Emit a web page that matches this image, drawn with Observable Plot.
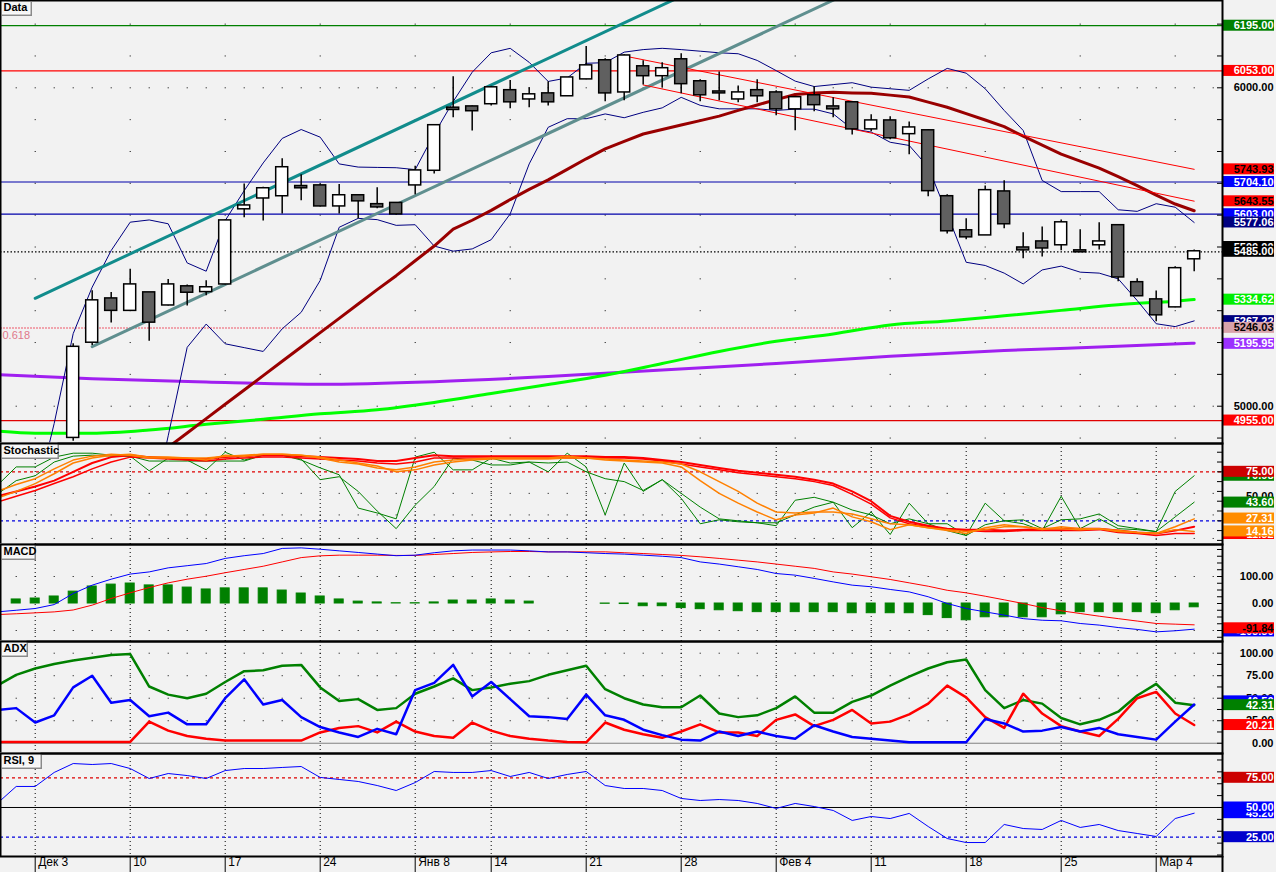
<!DOCTYPE html>
<html><head><meta charset="utf-8">
<script src="https://cdn.jsdelivr.net/npm/d3@7"></script>
<script src="https://cdn.jsdelivr.net/npm/@observablehq/plot@0.6"></script>
<style>
body{margin:0;background:#f2f2f2;}
#chart{position:relative;width:1276px;height:872px;background:#f2f2f2;overflow:hidden;}
#chart svg{position:absolute;left:0;display:block;}
</style></head><body><div id="chart"></div>
<script>
// ---------- x axis (trading-day index) ----------
const weekTicks = [0,5,10,15,20,24,29,34,39,44,49,54,59];
const weekLabels = ["Дек 3","10","17","24","Янв 8","14","21","28","Фев 4","11","18","25","Мар 4"];

// ---------- candles (index 2..61) ----------
const candleStart = 2;
const candleOpen  = [4902,5201,5337,5301,5356,5318,5375,5360,5384,5620,5654,5661,5690,5692,5629,5661,5633,5637,5695,5741,5936,5940,5950,5991,5965,5981,5975,6028,6085,5987,6066,6038,6088,6019,5987,5965,5991,5984,5934,5975,5940,5953,5871,5896,5856,5865,5658,5551,5538,5673,5497,5516,5507,5488,5507,5567,5388,5334,5312,5463];
const candleHigh  = [5196,5363,5357,5430,5357,5398,5381,5394,5585,5698,5688,5777,5727,5698,5696,5664,5686,5640,5754,5884,6035,5943,6005,6023,6000,6019,6031,6130,6091,6104,6085,6079,6107,6025,6050,6006,6025,5991,5969,6003,5969,5953,5915,5909,5893,5868,5664,5589,5692,5708,5545,5563,5585,5554,5576,5567,5400,5362,5438,5491];
const candleLow   = [4890,5191,5261,5298,5204,5315,5315,5347,5381,5592,5582,5604,5645,5626,5604,5589,5620,5600,5664,5729,5906,5864,5943,5934,5937,5943,5975,6025,5956,5959,6009,6000,5981,5956,5959,5953,5953,5912,5865,5925,5906,5852,5862,5837,5790,5658,5541,5523,5538,5557,5463,5469,5488,5485,5491,5391,5347,5265,5309,5422];
const candleClose = [5185,5331,5301,5381,5264,5381,5358,5372,5582,5629,5683,5749,5686,5629,5661,5645,5626,5604,5739,5881,5932,5928,6000,5956,5978,5956,6031,6069,5984,6100,6038,6060,6013,5978,5984,5984,5975,5934,5969,5947,5934,5871,5896,5843,5874,5677,5551,5532,5677,5573,5491,5497,5576,5485,5516,5406,5347,5287,5432,5485];

// ---------- overlays ----------
const maRedStart = 7;
const maRed = [4871,4916,4961,5006,5051,5096,5141,5186,5231,5276,5321,5366,5410,5457,5503,5556,5584,5615,5649,5681,5711,5744,5777,5808,5832,5855,5869,5883,5897,5911,5929,5946,5963,5979,5984,5986,5984,5983,5977,5971,5955,5939,5919,5899,5878,5848,5820,5792,5770,5748,5721,5693,5663,5635,5614];
const bbUpperStart = 0;
const bbUpper = [4700,4946,5228,5374,5489,5578,5585,5573,5450,5424,5583,5677,5764,5841,5869,5845,5761,5751,5750,5749,5743,5855,5957,6049,6110,6124,6080,6020,6031,6077,6079,6112,6120,6124,6120,6115,6110,6107,6086,6054,6021,6004,6010,6016,6002,5997,5992,6028,6061,6046,5997,5929,5866,5709,5674,5674,5674,5617,5612,5636,5625,5577];
const bbLowerStart = 6;
const bbLower = [4628,4907,5185,5258,5196,5184,5172,5243,5295,5395,5562,5590,5586,5568,5570,5503,5487,5494,5523,5604,5761,5876,5903,5903,5918,5906,5923,5937,5970,5945,5934,5934,5934,5929,5933,5933,5918,5871,5861,5829,5819,5751,5604,5452,5442,5418,5384,5428,5440,5421,5418,5400,5332,5259,5250,5268];
const maGreenIdx = [-2,0,3,6,9,12,15,18,21,24,27,30,33,36,39,42,45,48,51,54,57,60,61];
const maGreen    = [4922,4915,4915,4925,4943,4959,4976,4989,5012,5040,5068,5097,5134,5172,5204,5227,5255,5268,5284,5301,5319,5330,5335];
const maPurpleIdx = [-2,3,9,15,21,27,33,39,45,51,57,61];
const maPurple    = [5099,5086,5076,5069,5077,5093,5114,5134,5157,5175,5188,5198];
const tealUpperIdx = [0,40],  tealUpper = [5339,6455];
const tealLowerIdx = [3,45],  tealLower = [5187,6359];
const chanUpperIdx = [31,61], chanUpper = [6100,5744];
const chanLowerIdx = [32,61], chanLower = [6009,5644];
const levelValues = [6195,6053,5704.10,5603,5485,5246.03,4955];
const fibValue = 5246.03;
const mainTicks = [4900,5000,5100,5200,5300,5400,5500,5600,5700,5800,5900,6000,6100,6200];
const mainTickLabels = [5000,6000];
const mainLabelValues = [6195,6053,5743.93,5704.10,5643.55,5603,5577.06,5500,5485,5334.62,5267.22,5246.03,5195.95,4955];

// ---------- oscillators (index -2..61) ----------
const oscStart = -2;
const stochGreenA = [61,80,80,90,94,94,92,91,76,89,87,77,95,87,92,92,87,79,72,38,33,27,90,95,77,77,89,84,85,75,94,80,31,84,55,67,48,22,26,24,23,20,46,49,44,18,34,11,43,22,22,10,43,25,22,15,50,17,27,17,16,14,55,71];
const stochGreenB = [52,66,71,85,91,92,91,91,86,86,86,86,86,86,92,92,88,67,70,55,35,17,41,60,89,87,82,82,85,84,85,75,68,65,56,67,53,39,27,25,23,23,31,39,44,36,31,22,27,22,15,10,21,25,26,17,26,27,32,20,17,14,29,44];
const stochRed1 = [50,55,60,66,75,84,90,92,90,89,88,88,90,91,92,92,91,90,89,88,86,86,89,92,91,91,91,91,91,91,91,91,90,90,89,87,85,82,79,76,74,72,70,67,63,55,45,30,24,20,17,16,16,15,16,17,17,17,17,15,13,12,15,19];
const stochRed2 = [44,50,56,63,70,78,85,90,89,88,87,86,88,89,90,90,89,88,87,86,84,83,85,89,89,89,89,89,89,89,89,89,89,89,88,86,83,80,77,74,72,70,68,65,61,52,42,28,22,19,16,15,14,14,15,15,15,15,16,13,12,10,12,12];
const stochOrange1 = [55,62,68,78,87,91,93,92,89,89,89,87,92,91,93,93,92,89,85,83,79,77,80,85,87,88,89,89,89,89,91,89,87,86,85,84,80,66,53,43,34,26,31,33,38,29,24,16,21,18,15,12,18,21,19,16,19,17,17,15,13,12,19,27];
const stochOrange2 = [48,55,63,73,84,89,92,93,90,90,89,89,91,92,93,93,92,90,87,84,81,75,77,82,85,87,88,88,88,88,89,89,88,87,86,85,83,75,65,55,43,34,33,34,34,32,27,22,21,18,16,14,16,19,19,17,17,16,17,14,13,12,16,14];
const stochLevels = [75,25];
const stochGrid = [7,31,53];
const stochTicks = [5,15,25,35,45,55,65,75,85,95];
const stochLabelValues = [70.98,75,43.60,11.52,27.31,14.16];
const stochPlain = [50];

const macdLine = [-31,-25,-18.5,-4,37,68,90,109,117,132,140,148,167,177,185,204,206,201,195,189,183,177,179,188,195,198,198,198,195,191,191,188,185,183,179,175,170,154,146,136,126,111,105,93,80,68,62,52,43,25,0,-18.5,-31,-43,-56,-62,-64,-74,-80,-89,-96,-105,-101,-95];
const macdSignal = [-41,-38,-34.6,-31,-24,-6,18.5,39.5,59,76.5,90,101,114,126,138,154,170,176.5,179,179,179,178,178,181.5,185,189,191,192.6,192.6,191.3,191.3,191.3,191.3,188,185,181.5,178,173,167,160.5,154,146,138,130,117,109,99,89,76.5,64,49,39.5,27,13.6,0,-15,-27,-37,-47,-56,-65,-74,-76.5,-79];
const histIdx = [-1,0,1,2,3,4,5,6,7,8,9,10,11,12,13,14,15,16,17,18,19,20,21,22,23,24,25,26,30,31,32,33,34,35,36,37,38,39,40,41,42,43,44,45,46,47,48,49,50,51,52,53,54,55,56,57,58,59,60,61];
const histValues = [15,18.5,26,44,63,70,74,67,67,59,52,56,56,56,48,37,26,15,7,4,1,1,4,11,11,15,11,7,-1,-2,-10,-10,-17,-21,-25,-28.5,-32,-32,-32,-32,-32,-36,-36,-36,-36,-43,-54,-62,-51,-51,-51,-51,-40,-32,-32,-32,-32,-36,-25,-14];
const macdGrid = [100,-100];
const macdTicks = [-125,-100,-75,-50,-25,0,25,50,75,100,125,150,175,200];
const macdPlain = [100,0];
const macdLabelValues = [-103.5,-91.84];

const adxLine = [64,76,83,88,92,95,98,99,63,54,50,55,68,80,81,86,87,62,47,49,37,39,55,63,72,59,62,66,69,76,81,86,60,50,43,40,40,53,33,29,31,39,52,34,34,46,53,64,74,83,90,93,59,39,48,44,28,21,26,35,53,66,45,42.31];
const diPlus  = [37,39,23,31,62,75,45,48,30,34,21,21,50,71,43,48,29,18,12,7,16,10,59,67,87,52,68,49,30,29,27,54,31,26,15,9,4,3,13,8,13,8,5,20,13,7,5,3,1,1,1,1,27,22,13,14,18,13,17,10,7,4,24,43];
const diMinus = [1.5,1.5,1.5,1.5,1.5,1.5,1.5,1.5,24,14,8,5,3,3,3,3,3,12,17,19,12,24,13,8,6,23,14,8,5,3,1.5,1,23,15,10,6,13,21,12,12,8,26,32,19,26,37,22,24,32,44,64,51,29,17,55,33,19,13,8,27,50,57,33,20.21];
const adxGrid = [25,50,75,100];
const adxTicks = [0,12.5,25,37.5,50,62.5,75,87.5,100];
const adxPlain = [100,75,50,25,0];
const adxLabelValues = [46.5,42.31,20.21];

const rsiLine = [53.4,67.7,67.7,79.5,87,86.2,87,82.8,74.4,78.6,76.9,74.4,81.1,82.8,82.8,83.7,84.5,75.3,73.6,71.9,68.5,64.3,71,80.3,79.5,79.5,81.1,76.1,79.5,74.4,77.8,80.3,68.5,66,66,64.3,57.6,55.9,56.7,55.9,53.4,49.2,53.4,50.8,47.5,39.1,42.4,40.7,45,34,23.9,20.5,20.5,35.7,32.3,31.5,39.1,33.2,35.7,30.6,28.1,25.6,40.7,45.2];
const rsiTicks = [10,20,30,40,50,60,70,80,90];
const rsiLabelValues = [75,45.20,50,25];

// ---------- styles ----------
const FONT = "Liberation Sans, Arial, sans-serif";
const xDomain = [-1.826, 62.49];
const frameW = 1222;
const mainLabelStyle = [["#008000","#fff"],["#ff0000","#fff"],["#ff0000","#000"],["#0000ff","#fff"],["#ff0000","#000"],["#0000ff","#fff"],["#000080","#fff"],["#000000","#fff"],["#000000","#fff"],["#00ee00","#fff"],["#000080","#fff"],["#d9a3ab","#000"],["#9b30ff","#fff"],["#ff0000","#fff"]];
const levelStyle = [["#008000",""],["#ff0000",""],["#0000aa",""],["#0000aa",""],["#000000","1.5,2"],["#f08a96","2,1"],["#e00000",""]];
const stochLabelStyle = [["#008000","#fff"],["#cc0000","#fff"],["#008000","#fff"],["#ff0000","#fff"],["#ff8c00","#fff"],["#ff8c00","#fff"]];
const macdLabelStyle = [["#0000ff","#fff"],["#ff0000","#000"]];
const adxLabelStyle = [["#0000ff","#fff"],["#008000","#fff"],["#ff0000","#fff"]];
const rsiLabelStyle = [["#cc0000","#fff"],["#0000ff","#fff"],["#0000ff","#fff"],["#0000cc","#fff"]];

const seq = (start, vals) => vals.map((v, k) => ({i: start + k, v}));
const pairs = (idx, vals) => idx.map((i, k) => ({i, v: vals[k]}));

function labelMarks(values, styles, plain, ticks) {
  const boxes = values.map((v, k) => ({v, bg: styles[k][0], fg: styles[k][1]}));
  const m = [];
  if (ticks) m.push(Plot.tickY(ticks, {y: d => d, insetLeft: frameW - 5, stroke: "#000"}));
  if (plain) m.push(Plot.text(plain, {y: d => d, text: d => d.toFixed(2), frameAnchor: "right", dx: 51, textAnchor: "end", fontWeight: "bold", fontSize: 11, fontFamily: FONT, fill: "#000"}));
  for (const b of boxes) {
    m.push(Plot.rect([b], {y1: "v", y2: "v", insetTop: -5.5, insetBottom: -5.5, insetLeft: frameW + 1, insetRight: -52, fill: "bg"}));
    m.push(Plot.text([b], {y: "v", text: d => d.v.toFixed(2), frameAnchor: "right", dx: 51, textAnchor: "end", fontWeight: "bold", fontSize: 11, fontFamily: FONT, fill: "fg"}));
  }
  return m;
}

function titleBox(label, boxW, frameH) {
  return [
    Plot.rect([0], {insetLeft: 2, insetTop: 2, insetRight: frameW - boxW - 2, insetBottom: frameH - 16, fill: "#8a8a8a"}),
    Plot.rect([0], {insetLeft: 0, insetTop: 0, insetRight: frameW - boxW, insetBottom: frameH - 14, fill: "#f6f6f6", stroke: "#ffffff"}),
    Plot.text([label], {text: d => d, frameAnchor: "top-left", dx: 3, dy: 7, lineAnchor: "middle", fontWeight: "bold", fontSize: 11, fontFamily: FONT, fill: "#000"})
  ];
}

function panel(top, height, yDomain, marks, mb = 0) {
  const svg = Plot.plot({
    width: 1276, height, marginLeft: 0, marginRight: 54, marginTop: 0, marginBottom: mb,
    x: {type: "linear", domain: xDomain, axis: null},
    y: {type: "linear", domain: yDomain, axis: null},
    color: {type: "identity"},
    style: {background: "transparent", fontFamily: FONT, overflow: "visible"},
    marks
  });
  svg.style.top = top + "px";
  document.getElementById("chart").appendChild(svg);
}

// ---------- MAIN PANEL ----------
const candles = candleOpen.map((o, k) => ({i: candleStart + k, o, h: candleHigh[k], l: candleLow[k], c: candleClose[k]}));
const levels = levelValues.map((v, k) => ({v, s: levelStyle[k][0], d: levelStyle[k][1]}));
const sparseRows = mainTicks.filter(t => !mainTickLabels.includes(t));
panel(0, 443, [4882.9, 6274.2], [
  Plot.ruleY(sparseRows, {y: d => d, stroke: "#000", strokeDasharray: "1,94", strokeDashoffset: 60.3}),
  Plot.ruleY(mainTickLabels, {y: d => d, stroke: "#000", strokeDasharray: "1,18", strokeDashoffset: 3.3}),
  ...levels.map(l => Plot.ruleY([l], {y: "v", stroke: l.s, strokeWidth: l.d === "2,1" ? 1.5 : 1.2, strokeDasharray: l.d || null})),
  Plot.text([fibValue], {y: d => d, text: () => "0.618", frameAnchor: "left", dx: 2, dy: 8, textAnchor: "start", fontSize: 11, fontFamily: FONT, fill: "#e0788a"}),
  Plot.line(pairs(maPurpleIdx, maPurple), {x: "i", y: "v", stroke: "#a020f0", strokeWidth: 3, curve: "monotone-x", clip: true}),
  Plot.line(pairs(maGreenIdx, maGreen), {x: "i", y: "v", stroke: "#00ff00", strokeWidth: 3, curve: "monotone-x", clip: true}),
  Plot.line(seq(bbUpperStart, bbUpper), {x: "i", y: "v", stroke: "#000080", strokeWidth: 1, clip: true}),
  Plot.line(seq(bbLowerStart, bbLower), {x: "i", y: "v", stroke: "#000080", strokeWidth: 1, clip: true}),
  Plot.line(pairs(tealUpperIdx, tealUpper), {x: "i", y: "v", stroke: "#118c8c", strokeWidth: 3, clip: true}),
  Plot.line(pairs(tealLowerIdx, tealLower), {x: "i", y: "v", stroke: "#5f8f8f", strokeWidth: 3, clip: true}),
  Plot.line(seq(maRedStart, maRed), {x: "i", y: "v", stroke: "#990000", strokeWidth: 3, clip: true}),
  Plot.line(pairs(chanUpperIdx, chanUpper), {x: "i", y: "v", stroke: "#ff0000", strokeWidth: 1, clip: true}),
  Plot.line(pairs(chanLowerIdx, chanLower), {x: "i", y: "v", stroke: "#ff0000", strokeWidth: 1, clip: true}),
  Plot.ruleX(candles, {x: "i", y1: "l", y2: "h", stroke: "#000", strokeWidth: 1.5, clip: true}),
  Plot.rect(candles, {x1: "i", x2: "i", y1: "o", y2: "c", insetLeft: -6, insetRight: -6, insetTop: -0.5, insetBottom: -0.5,
    fill: d => d.c >= d.o ? "#ffffff" : "#606060", stroke: "#000", strokeWidth: 1.5, clip: true}),
  ...titleBox("Data", 30, 443),
  ...labelMarks(mainLabelValues, mainLabelStyle, mainTickLabels, mainTicks),
  Plot.frame({stroke: "#000", strokeWidth: 2})
]);

// ---------- STOCHASTIC ----------
panel(443, 101, [0.82, 103.9], [
  Plot.ruleX(weekTicks, {x: d => d, stroke: "#000", strokeDasharray: "1,3"}),
  Plot.ruleY(stochGrid, {y: d => d, stroke: "#000", strokeDasharray: "1,18", strokeDashoffset: 3.3}),
  Plot.ruleY([stochLevels[0]], {y: d => d, stroke: "#dd0000", strokeDasharray: "3,3", strokeWidth: 1.2}),
  Plot.ruleY([stochLevels[1]], {y: d => d, stroke: "#0000dd", strokeDasharray: "3,3", strokeWidth: 1.2}),
  Plot.line(seq(oscStart, stochGreenB), {x: "i", y: "v", stroke: "#008000", strokeWidth: 1, clip: true}),
  Plot.line(seq(oscStart, stochGreenA), {x: "i", y: "v", stroke: "#008000", strokeWidth: 1, clip: true}),
  Plot.line(seq(oscStart, stochRed2), {x: "i", y: "v", stroke: "#ff0000", strokeWidth: 1.5, clip: true}),
  Plot.line(seq(oscStart, stochRed1), {x: "i", y: "v", stroke: "#ff0000", strokeWidth: 2, clip: true}),
  Plot.line(seq(oscStart, stochOrange2), {x: "i", y: "v", stroke: "#ff8000", strokeWidth: 1.5, clip: true}),
  Plot.line(seq(oscStart, stochOrange1), {x: "i", y: "v", stroke: "#ff8000", strokeWidth: 1.5, clip: true}),
  ...titleBox("Stochastic", 57, 101),
  ...labelMarks(stochLabelValues, stochLabelStyle, stochPlain, stochTicks),
  Plot.frame({stroke: "#000", strokeWidth: 2})
]);

// ---------- MACD ----------
panel(544, 97, [-140.7, 218.5], [
  Plot.ruleX(weekTicks, {x: d => d, stroke: "#000", strokeDasharray: "1,3"}),
  Plot.ruleY(macdGrid, {y: d => d, stroke: "#000", strokeDasharray: "1,18", strokeDashoffset: 3.3}),
  Plot.rect(pairs(histIdx, histValues), {x1: "i", x2: "i", y1: 0, y2: "v", insetLeft: -4.5, insetRight: -4.5, fill: "#008000", stroke: "#008000", strokeWidth: 1}),
  Plot.line(seq(oscStart, macdSignal), {x: "i", y: "v", stroke: "#ff0000", strokeWidth: 1, clip: true}),
  Plot.line(seq(oscStart, macdLine), {x: "i", y: "v", stroke: "#0000ff", strokeWidth: 1, clip: true}),
  ...titleBox("MACD", 34, 97),
  ...labelMarks(macdLabelValues, macdLabelStyle, macdPlain, macdTicks),
  Plot.frame({stroke: "#000", strokeWidth: 2})
]);

// ---------- ADX ----------
panel(641, 112, [-11.4, 113], [
  Plot.ruleX(weekTicks, {x: d => d, stroke: "#000", strokeDasharray: "1,3"}),
  Plot.ruleY(adxGrid, {y: d => d, stroke: "#000", strokeDasharray: "1,18", strokeDashoffset: 3.3}),
  Plot.ruleY([0], {y: d => d, stroke: "#808080", strokeWidth: 1}),
  Plot.line(seq(oscStart, adxLine), {x: "i", y: "v", stroke: "#008000", strokeWidth: 2.5, clip: true}),
  Plot.line(seq(oscStart, diMinus), {x: "i", y: "v", stroke: "#ff0000", strokeWidth: 2.5, clip: true}),
  Plot.line(seq(oscStart, diPlus), {x: "i", y: "v", stroke: "#0000ff", strokeWidth: 2.5, clip: true}),
  ...titleBox("ADX", 26, 112),
  ...labelMarks(adxLabelValues, adxLabelStyle, adxPlain, adxTicks),
  Plot.frame({stroke: "#000", strokeWidth: 2})
]);

// ---------- RSI + date axis ----------
panel(753, 119, [8.75, 95.45], [
  Plot.ruleX(weekTicks, {x: d => d, stroke: "#000", strokeDasharray: "1,3"}),
  Plot.ruleY([75], {y: d => d, stroke: "#dd0000", strokeDasharray: "3,3", strokeWidth: 1.2}),
  Plot.ruleY([50], {y: d => d, stroke: "#000", strokeWidth: 1}),
  Plot.ruleY([25], {y: d => d, stroke: "#0000dd", strokeDasharray: "3,3", strokeWidth: 1.2}),
  Plot.line(seq(oscStart, rsiLine), {x: "i", y: "v", stroke: "#0000ff", strokeWidth: 1, clip: true}),
  ...titleBox("RSI, 9", 40, 103),
  ...labelMarks(rsiLabelValues, rsiLabelStyle, null, rsiTicks),
  Plot.ruleX(weekTicks, {x: d => d, insetTop: 103, insetBottom: -16, stroke: "#000", strokeWidth: 1}),
  Plot.ruleX([xDomain[1]], {x: d => d, insetTop: 103, insetBottom: -16, stroke: "#000", strokeWidth: 2}),
  Plot.text(weekTicks, {x: d => d, text: (d, k) => weekLabels[k], frameAnchor: "bottom", dy: 9, dx: 3, textAnchor: "start", fontSize: 12, fontFamily: FONT, fill: "#000"}),
  Plot.frame({stroke: "#000", strokeWidth: 2})
], 16);
</script></body></html>
